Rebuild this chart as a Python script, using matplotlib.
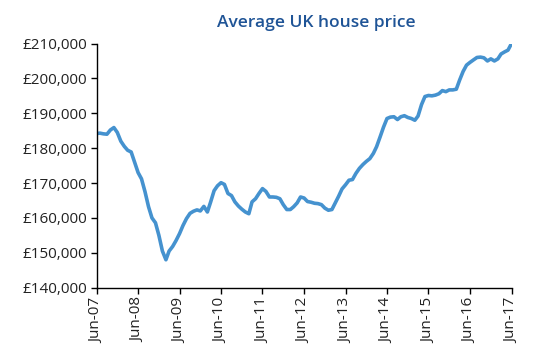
import pandas as pd
import numpy as np
import matplotlib.pyplot as plt
import matplotlib.ticker as mticker

# average UK house price, monthly from Jun-2007 to Jun-2017
prices = [
    184200, 184300, 184100, 184000, 185200, 185900, 184500, 182000, 180500, 179400, 178900, 176000,
    173000, 171200, 167500, 163200, 160000, 158600, 155000, 150500, 148000, 150500, 151800, 153500,
    155500, 157800, 159800, 161300, 161900, 162300, 162000, 163300, 161700, 164500, 167800, 169200,
    170100, 169600, 167000, 166400, 164600, 163400, 162500, 161700, 161200, 164600, 165500, 167000,
    168400, 167600, 166000, 166000, 165900, 165500, 163800, 162400, 162400, 163200, 164300, 166000,
    165700, 164700, 164500, 164200, 164100, 163800, 162800, 162200, 162400, 164200, 166200, 168300,
    169500, 170800, 171000, 172800, 174200, 175300, 176200, 177000, 178500, 180400, 183200, 186000,
    188500, 188900, 189000, 188200, 189000, 189300, 188800, 188500, 188000, 189200, 192500, 194800,
    195100, 195000, 195200, 195600, 196500, 196200, 196700, 196700, 196900, 199500, 202000, 203800,
    204600, 205300, 206000, 206100, 205900, 205000, 205600, 205000, 205600, 207000, 207600, 208100,
    210000,
]
months = pd.date_range("2007-06-01", periods=len(prices), freq="MS")
tick_dates = pd.date_range("2007-06-01", "2017-06-01", freq="12MS")
tick_labels = [d.strftime("Jun-%y") for d in tick_dates]

plt.rcParams['font.family'] = ['Open Sans', 'DejaVu Sans']

fig = plt.figure(figsize=(5.44, 3.47), dpi=100)
ax = fig.add_axes([0.1774, 0.171, 0.7629, 0.7036])

ax.plot(months, prices, color="#4592cf", linewidth=2.6, solid_capstyle="round")

ax.set_xlim(months[0], months[-1])
ax.set_ylim(140000, 210000)
ax.set_yticks(np.arange(140000, 210001, 10000))
ax.yaxis.set_major_formatter(mticker.FuncFormatter(lambda v, p: f"£{v:,.0f}"))
ax.set_xticks(tick_dates)
ax.set_xticklabels(tick_labels, rotation=90)

for side in ["top", "right"]:
    ax.spines[side].set_visible(False)
for side in ["left", "bottom"]:
    ax.spines[side].set_color("black")
    ax.spines[side].set_linewidth(1.0)
ax.tick_params(axis="both", direction="out", length=4, width=1, colors="black",
               labelsize=11, labelcolor="#222222")
ax.tick_params(axis="y", pad=3)
ax.tick_params(axis="x", pad=3)

fig.text(0.581, 0.933, "Average UK house price", ha="center", va="center",
         fontsize=12.5, color="#1f5496", fontweight="semibold")

fig.savefig("out.png", dpi=100)
